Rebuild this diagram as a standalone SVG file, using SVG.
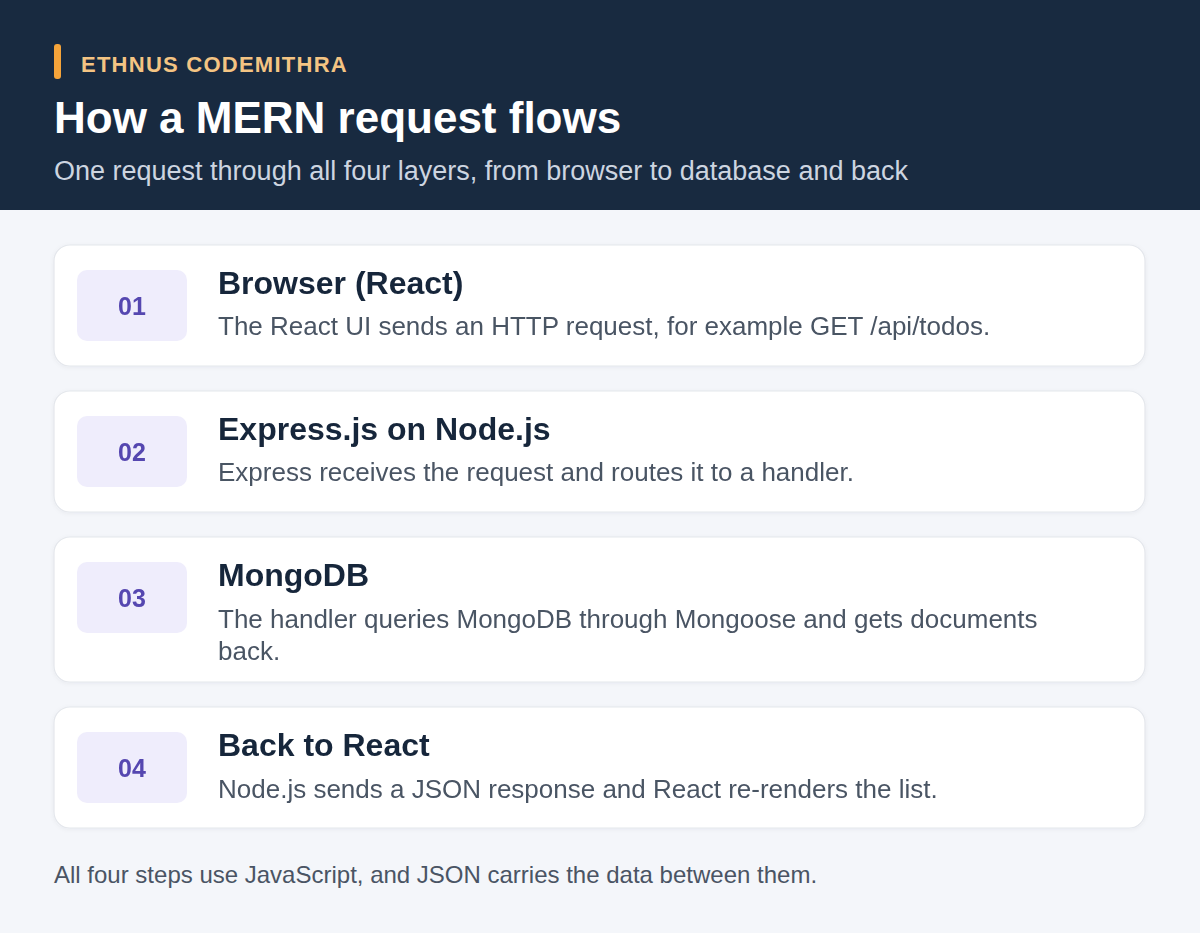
<svg xmlns="http://www.w3.org/2000/svg" width="1200" height="933" viewBox="0 0 1200 933">
<defs>
<style>
.card{fill:#ffffff;stroke:#e4e7ec;stroke-width:1.2}
.badge{fill:#efedfc}
.num{font-family:"Liberation Sans",Arial,sans-serif;font-weight:700;font-size:25px;fill:#5546b0;text-anchor:middle}
.ttl{font-family:"Liberation Sans",Arial,sans-serif;font-weight:700;font-size:32px;fill:#17263a}
.dsc{font-family:"Liberation Sans",Arial,sans-serif;font-size:26px;fill:#4a5464}
</style>
<filter id="sh" x="-5%" y="-20%" width="110%" height="140%">
<feDropShadow dx="0" dy="1" stdDeviation="2" flood-color="#1a2b40" flood-opacity="0.05"/>
</filter>
</defs>
<rect x="0" y="0" width="1200" height="933" fill="#f4f6fa"/>
<g id="header">
<rect x="0" y="0" width="1200" height="210" fill="#182a40"/>
<rect x="54" y="44" width="7" height="35" rx="3" fill="#f5a43a"/>
<text x="81" y="72" font-family="'Liberation Sans',Arial,sans-serif" font-weight="700" font-size="22" letter-spacing="1.25" fill="#f4c483">ETHNUS CODEMITHRA</text>
<text x="54" y="133" font-family="'Liberation Sans',Arial,sans-serif" font-weight="700" font-size="44" fill="#ffffff">How a MERN request flows</text>
<text x="54" y="180" font-family="'Liberation Sans',Arial,sans-serif" font-size="27" fill="#cdd5e0">One request through all four layers, from browser to database and back</text>
</g>
<g id="connectors"></g>
<g id="step1" filter="url(#sh)">
<rect class="card" x="54" y="245" width="1091" height="121" rx="16"/>
<rect class="badge" x="77" y="270" width="110" height="71" rx="10"/>
<text class="num" x="132" y="315">01</text>
<text class="ttl" x="218" y="294">Browser (React)</text>
<text class="dsc" x="218" y="335">The React UI sends an HTTP request, for example GET /api/todos.</text>
</g>
<g id="step2" filter="url(#sh)">
<rect class="card" x="54" y="391" width="1091" height="121" rx="16"/>
<rect class="badge" x="77" y="416" width="110" height="71" rx="10"/>
<text class="num" x="132" y="461">02</text>
<text class="ttl" x="218" y="440">Express.js on Node.js</text>
<text class="dsc" x="218" y="481">Express receives the request and routes it to a handler.</text>
</g>
<g id="step3" filter="url(#sh)">
<rect class="card" x="54" y="537" width="1091" height="145" rx="16"/>
<rect class="badge" x="77" y="562" width="110" height="71" rx="10"/>
<text class="num" x="132" y="607">03</text>
<text class="ttl" x="218" y="586">MongoDB</text>
<text class="dsc" x="218" y="628">The handler queries MongoDB through Mongoose and gets documents</text>
<text class="dsc" x="218" y="660">back.</text>
</g>
<g id="step4" filter="url(#sh)">
<rect class="card" x="54" y="707" width="1091" height="121" rx="16"/>
<rect class="badge" x="77" y="732" width="110" height="71" rx="10"/>
<text class="num" x="132" y="777">04</text>
<text class="ttl" x="218" y="756">Back to React</text>
<text class="dsc" x="218" y="798">Node.js sends a JSON response and React re-renders the list.</text>
</g>
<g id="footer">
<text x="54" y="883" font-family="'Liberation Sans',Arial,sans-serif" font-size="24" fill="#4a5464">All four steps use JavaScript, and JSON carries the data between them.</text>
</g>
</svg>
